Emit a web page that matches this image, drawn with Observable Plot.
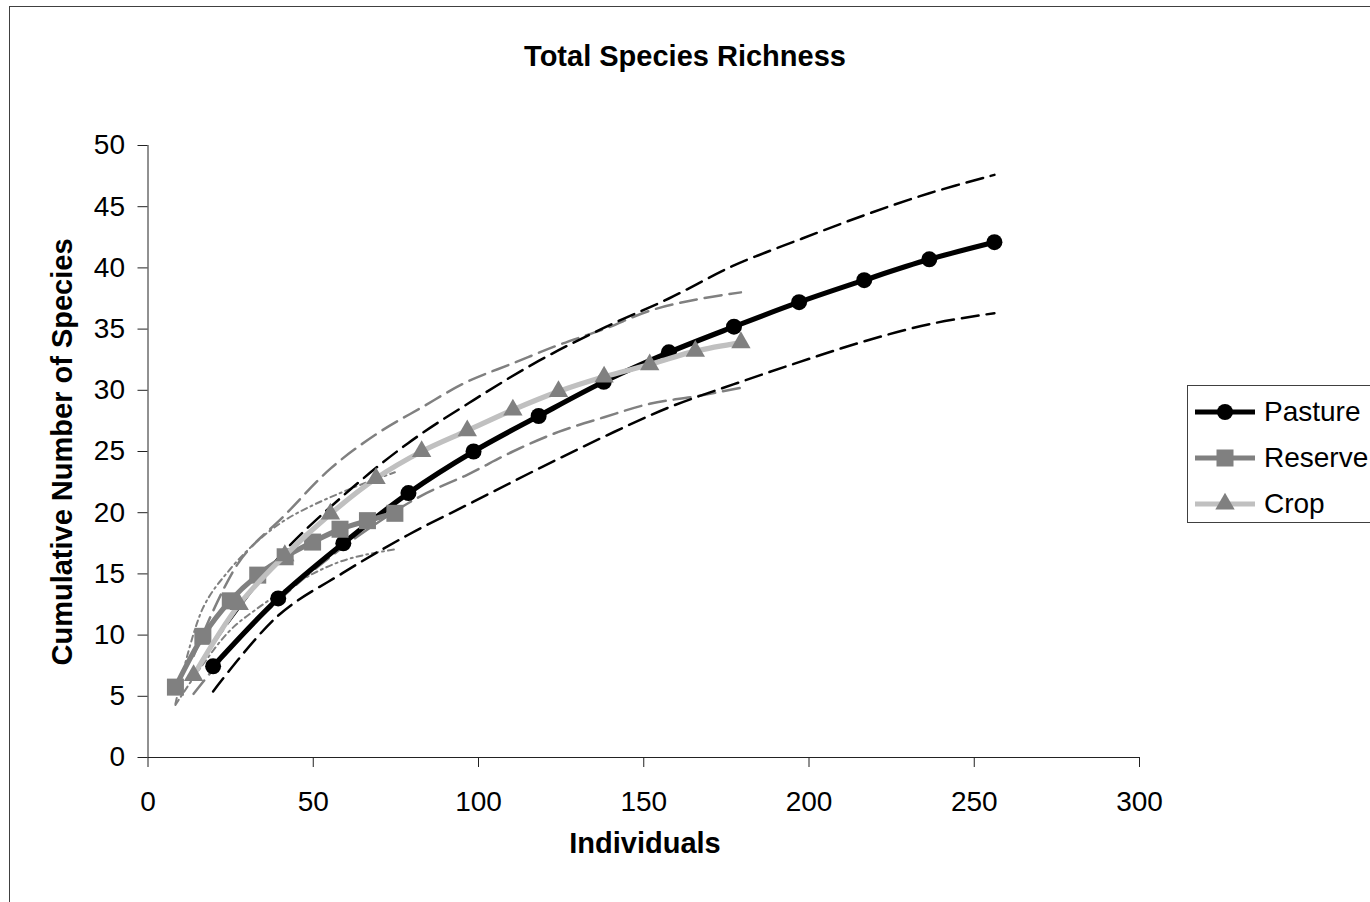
<!DOCTYPE html>
<html>
<head>
<meta charset="utf-8">
<script src="https://cdn.jsdelivr.net/npm/d3@7"></script>
<script src="https://cdn.jsdelivr.net/npm/@observablehq/plot@0.6"></script>
<style>
  html, body { margin: 0; padding: 0; background: #fff; overflow: hidden; }
  body { font-family: "Liberation Sans", Arial, sans-serif; color: #000; }
  #wrap { position: relative; width: 1370px; height: 902px; overflow: hidden; background: #fff; }
  #frame { position: absolute; left: 9px; top: 6px; width: 1420px; height: 960px; border: 1.5px solid #404040; box-sizing: border-box; }
  #chart { position: absolute; left: 0; top: 0; }
  .lbl { position: absolute; white-space: nowrap; font-weight: bold; font-size: 29px; line-height: 29px; }
  #title { left: 0; width: 1370px; text-align: center; top: 42px; }
  #xlabel { left: 645px; top: 843px; transform: translate(-50%, -50%); }
  #ylabel { left: 62px; top: 452px; transform: translate(-50%, -50%) rotate(-90deg); }
  #legend { position: absolute; left: 1187px; top: 385px; width: 300px; height: 138px; border: 1.5px solid #404040; box-sizing: border-box; background: #fff; }
</style>
</head>
<body>
<div id="wrap">
  <div id="frame"></div>
  <div id="chart"></div>
  <div id="title" class="lbl">Total Species Richness</div>
  <div id="xlabel" class="lbl">Individuals</div>
  <div id="ylabel" class="lbl">Cumulative Number of Species</div>
  <div id="legend"></div>
</div>
<script>
// ---- data ----
const xTicks = [0, 50, 100, 150, 200, 250, 300];
const yTicks = [0, 5, 10, 15, 20, 25, 30, 35, 40, 45, 50];

const seriesNames = ["Pasture", "Reserve", "Crop"];

const pastureX     = [19.7, 39.4, 59.1, 78.8, 98.5, 118.2, 137.9, 157.6, 177.3, 197.0, 216.7, 236.4, 256.1];
const pastureY     = [7.45, 13.0, 17.5, 21.6, 25.0, 27.9, 30.7, 33.1, 35.2, 37.2, 39.0, 40.7, 42.1];
const pastureUpper = [9.3, 16.3, 21.4, 25.7, 29.2, 32.4, 35.1, 37.5, 40.2, 42.3, 44.3, 46.1, 47.6];
const pastureLower = [5.4, 11.6, 15.1, 18.2, 20.9, 23.6, 26.2, 28.6, 30.5, 32.3, 34.0, 35.4, 36.3];

const reserveX     = [8.3, 16.6, 24.9, 33.2, 41.5, 49.8, 58.1, 66.4, 74.7];
const reserveY     = [5.75, 9.9, 12.8, 14.9, 16.4, 17.6, 18.65, 19.35, 19.95];
const reserveUpper = [4.4, 12.2, 15.4, 17.7, 19.4, 20.6, 21.6, 22.5, 23.3];
const reserveLower = [4.3, 7.6, 10.4, 12.2, 13.7, 15.0, 16.0, 16.6, 17.0];

const cropX     = [13.8, 27.6, 41.4, 55.2, 69.0, 82.8, 96.6, 110.4, 124.2, 138.0, 151.8, 165.6, 179.4];
const cropY     = [6.7, 12.5, 16.5, 19.9, 22.8, 25.0, 26.7, 28.4, 29.9, 31.1, 32.1, 33.2, 33.9];
const cropUpper = [8.3, 16.0, 19.8, 23.6, 26.4, 28.6, 30.7, 32.2, 33.7, 35.0, 36.5, 37.4, 38.0];
const cropLower = [5.2, 9.7, 13.3, 16.4, 19.1, 21.4, 23.1, 25.0, 26.6, 27.8, 28.9, 29.5, 30.2];

// ---- build tables ----
const rows = (xs, ys) => xs.map((x, i) => ({x, y: ys[i]}));
const pasture = rows(pastureX, pastureY);
const reserve = rows(reserveX, reserveY);
const crop = rows(cropX, cropY);

const curve = "catmull-rom";
const font = "'Liberation Sans', Arial, sans-serif";

const styles = {
  Pasture: {stroke: "#000000", fill: "#000000", symbol: "circle", r: 8},
  Reserve: {stroke: "#808080", fill: "#808080", symbol: "square", r: 9.6},
  Crop:    {stroke: "#C0C0C0", fill: "#808080", symbol: "triangle", r: 7.2}
};

const ciLine = (xs, ys, stroke, dash, w) =>
  Plot.line(rows(xs, ys), {x: "x", y: "y", stroke, strokeWidth: w, strokeDasharray: dash, curve});

const chart = Plot.plot({
  width: 1370,
  height: 902,
  marginLeft: 147.5,
  marginRight: 231,
  marginTop: 145,
  marginBottom: 145,
  style: {fontFamily: font, fontSize: "28px", background: "transparent", color: "#000", overflow: "visible"},
  x: {domain: [0, 300]},
  y: {domain: [0, 50]},
  marks: [
    Plot.axisX({ticks: xTicks, tickSize: 10, tickPadding: 24, fontSize: 28, label: null, stroke: "#222"}),
    Plot.axisY({ticks: yTicks, tickSize: 10, tickPadding: 13, fontSize: 28, label: null, stroke: "#222"}),
    Plot.ruleY([0], {stroke: "#222"}),
    Plot.ruleX([0], {stroke: "#222"}),
    // confidence bounds
    ciLine(reserveX, reserveUpper, "#808080", "6,4,2,4", 2),
    ciLine(reserveX, reserveLower, "#808080", "6,4,2,4", 2),
    ciLine(cropX, cropUpper, "#808080", "17,8", 2.5),
    ciLine(cropX, cropLower, "#808080", "17,8", 2.5),
    ciLine(pastureX, pastureUpper, "#000", "17,8", 2.5),
    ciLine(pastureX, pastureLower, "#000", "17,8", 2.5),
    // mean curves
    Plot.line(pasture, {x: "x", y: "y", stroke: styles.Pasture.stroke, strokeWidth: 5.2, curve}),
    Plot.dot(pasture, {x: "x", y: "y", r: styles.Pasture.r, fill: styles.Pasture.fill, symbol: "circle"}),
    Plot.line(reserve, {x: "x", y: "y", stroke: styles.Reserve.stroke, strokeWidth: 5.2, curve}),
    Plot.dot(reserve, {x: "x", y: "y", r: styles.Reserve.r, fill: styles.Reserve.fill, symbol: "square"}),
    Plot.line(crop, {x: "x", y: "y", stroke: styles.Crop.stroke, strokeWidth: 5.2, curve}),
    Plot.dot(crop, {x: "x", y: "y", r: styles.Crop.r, fill: styles.Crop.fill, symbol: "triangle"})
  ]
});
document.getElementById("chart").appendChild(chart);

// ---- legend ----
const legend = d3.select("#legend");
const rowTops = [0, 46, 92];
seriesNames.forEach((name, i) => {
  const s = styles[name];
  const row = legend.append("div")
    .style("position", "absolute").style("left", "0px").style("top", (rowTops[i] + 4) + "px")
    .style("height", "44px").style("display", "flex").style("align-items", "center");
  const svg = row.append("svg").attr("width", 76).attr("height", 44).style("display", "block");
  svg.append("line").attr("x1", 7).attr("x2", 67).attr("y1", 22).attr("y2", 22)
    .attr("stroke", s.stroke).attr("stroke-width", 5.2);
  const sym = {circle: d3.symbolCircle, square: d3.symbolSquare, triangle: d3.symbolTriangle}[s.symbol];
  svg.append("path").attr("transform", "translate(37,22)")
    .attr("d", d3.symbol(sym, Math.PI * s.r * s.r)()).attr("fill", s.fill);
  row.append("span").text(name)
    .style("font-size", "28px").style("font-family", font).style("line-height", "28px");
});
</script>
</body>
</html>
